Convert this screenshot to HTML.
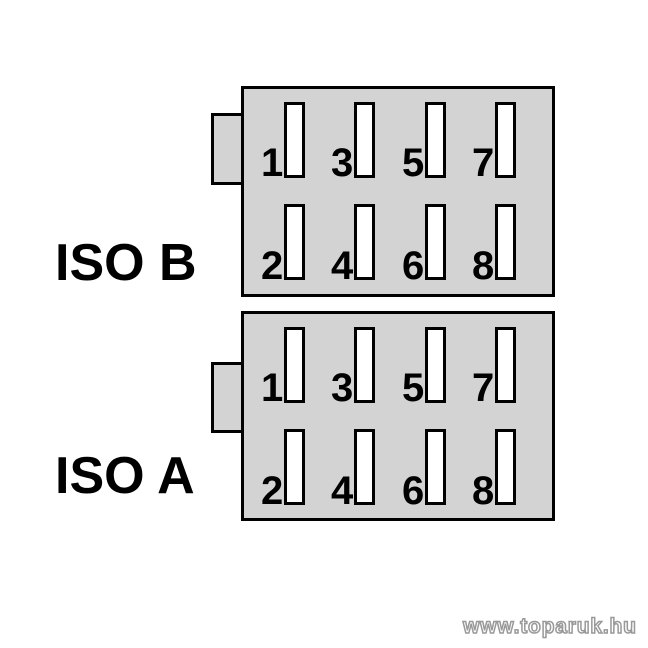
<!DOCTYPE html>
<html><head><style>
body{margin:0;width:648px;height:648px;background:#fff;position:relative;overflow:hidden;font-family:"Liberation Sans",Arial,sans-serif;font-weight:bold}
.a{position:absolute;box-sizing:border-box}
.box{background:#d3d3d3;border:3px solid #000}
.pin{background:#fff;border:3px solid #000;width:21px;height:76px}
.d{position:absolute;font-size:40px;line-height:1;color:#000;letter-spacing:-1px}
.lbl{position:absolute;font-size:52px;line-height:1;color:#000}
</style></head><body>
<div class="a box" style="left:211px;top:113px;width:33px;height:72px"></div>
<div class="a box" style="left:241px;top:86px;width:314px;height:211px"></div>
<div class="a box" style="left:211px;top:362px;width:33px;height:71px"></div>
<div class="a box" style="left:241px;top:311px;width:314px;height:210px"></div>

<div class="a pin" style="left:284px;top:102px"></div>
<div class="a pin" style="left:354px;top:102px"></div>
<div class="a pin" style="left:425px;top:102px"></div>
<div class="a pin" style="left:495px;top:102px"></div>
<div class="a pin" style="left:284px;top:204px"></div>
<div class="a pin" style="left:354px;top:204px"></div>
<div class="a pin" style="left:425px;top:204px"></div>
<div class="a pin" style="left:495px;top:204px"></div>

<div class="a pin" style="left:284px;top:327px"></div>
<div class="a pin" style="left:354px;top:327px"></div>
<div class="a pin" style="left:425px;top:327px"></div>
<div class="a pin" style="left:495px;top:327px"></div>
<div class="a pin" style="left:284px;top:429px"></div>
<div class="a pin" style="left:354px;top:429px"></div>
<div class="a pin" style="left:425px;top:429px"></div>
<div class="a pin" style="left:495px;top:429px"></div>

<div class="d" style="left:261px;top:143px">1</div>
<div class="d" style="left:331px;top:143px">3</div>
<div class="d" style="left:402px;top:143px">5</div>
<div class="d" style="left:472px;top:143px">7</div>
<div class="d" style="left:261px;top:246px">2</div>
<div class="d" style="left:331px;top:246px">4</div>
<div class="d" style="left:402px;top:246px">6</div>
<div class="d" style="left:472px;top:246px">8</div>

<div class="d" style="left:261px;top:368px">1</div>
<div class="d" style="left:331px;top:368px">3</div>
<div class="d" style="left:402px;top:368px">5</div>
<div class="d" style="left:472px;top:368px">7</div>
<div class="d" style="left:261px;top:471px">2</div>
<div class="d" style="left:331px;top:471px">4</div>
<div class="d" style="left:402px;top:471px">6</div>
<div class="d" style="left:472px;top:471px">8</div>

<div class="lbl" style="left:55px;top:237px">ISO B</div>
<div class="lbl" style="left:55px;top:450px">ISO A</div>

<div style="position:absolute;left:463px;top:615px;font-size:21px;color:#fff;-webkit-text-stroke:1.5px #999;letter-spacing:0.8px">www.toparuk.hu</div>
</body></html>
